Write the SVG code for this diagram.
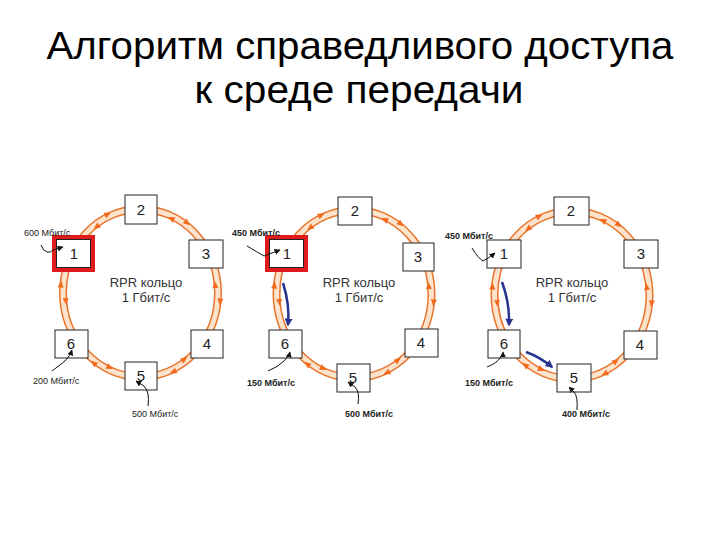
<svg xmlns="http://www.w3.org/2000/svg" xmlns:xlink="http://www.w3.org/1999/xlink" width="720" height="540" viewBox="0 0 720 540">
<style>
.title{font-family:"Liberation Sans",Arial,sans-serif;font-size:39px;fill:#000;text-anchor:middle}
.box{fill:#fff;stroke:#222;stroke-width:1}
.num{font-family:"Liberation Sans",Arial,sans-serif;font-size:15px;fill:#222;text-anchor:middle}
.rpr{font-family:"Liberation Sans",Arial,sans-serif;font-size:13px;fill:#333;text-anchor:middle}
.lbl{font-family:"Liberation Sans",Arial,sans-serif;font-size:9px;fill:#222}
.lblb{font-family:"Liberation Sans",Arial,sans-serif;font-size:9px;font-weight:bold;fill:#222}
.red{fill:none;stroke:#e01b1b;stroke-width:4}
.ann{fill:none;stroke:#111;stroke-width:1}
.blue{fill:none;stroke:#27358f;stroke-width:2.5}
.ah{fill:#f26a1b}
</style>
<defs>
<marker id="ka" viewBox="0 0 10 10" refX="9" refY="5" markerWidth="6" markerHeight="6" markerUnits="userSpaceOnUse" orient="auto"><path d="M0,0 L10,5 L0,10 z" fill="#111"/></marker>
<marker id="ba" viewBox="0 0 10 10" refX="8" refY="5" markerWidth="8" markerHeight="8" markerUnits="userSpaceOnUse" orient="auto"><path d="M0,0 L10,5 L0,10 z" fill="#27358f"/></marker>
<path id="arr" d="M-3.5,-3 L3.5,0 L-3.5,3 z"/>
<g id="ring">
<ellipse rx="77.5" ry="84" fill="none" stroke="#e8742c" stroke-width="8"/>
<ellipse rx="77.5" ry="84" fill="none" stroke="#fde2cc" stroke-width="5"/>
<g class="ah">
<use xlink:href="#arr" transform="translate(47,-70) rotate(38)"/>
<use xlink:href="#arr" transform="translate(79.6,9) rotate(95.6)"/>
<use xlink:href="#arr" transform="translate(32.5,79) rotate(154.3)"/>
<use xlink:href="#arr" transform="translate(-47,70) rotate(218)"/>
<use xlink:href="#arr" transform="translate(-79.6,-9) rotate(-84.4)"/>
<use xlink:href="#arr" transform="translate(-32.5,-79) rotate(-25.7)"/>
<use xlink:href="#arr" transform="translate(30.5,-74.5) rotate(205.8)"/>
<use xlink:href="#arr" transform="translate(74.6,-8.5) rotate(-95.5)"/>
<use xlink:href="#arr" transform="translate(44.1,65.9) rotate(-38.3)"/>
<use xlink:href="#arr" transform="translate(-30.5,74.5) rotate(25.8)"/>
<use xlink:href="#arr" transform="translate(-74.6,8.5) rotate(84.5)"/>
<use xlink:href="#arr" transform="translate(-44.1,-65.9) rotate(141.7)"/>
</g>
</g>
</defs>
<rect width="720" height="540" fill="#fff"/>
<g id="title">
<text class="title" x="360" y="59" textLength="627" lengthAdjust="spacingAndGlyphs">Алгоритм справедливого доступа</text>
<text class="title" x="359" y="103" textLength="329" lengthAdjust="spacingAndGlyphs">к среде передачи</text>
</g>
<g id="connectors">
<use xlink:href="#ring" x="140.5" y="293"/>
<use xlink:href="#ring" x="354" y="294"/>
<use xlink:href="#ring" x="572" y="295"/>
</g>
<g id="ring1">
<g id="r1n2"><rect class="box" x="125" y="195" width="32" height="29"/><text class="num" x="141" y="215">2</text></g>
<g id="r1n1"><rect class="red" x="54" y="237" width="39" height="33"/><rect class="box" x="56.5" y="239.5" width="34" height="28"/><text class="num" x="74" y="259">1</text></g>
<g id="r1n3"><rect class="box" x="189" y="240" width="34" height="28"/><text class="num" x="206" y="259">3</text></g>
<g id="r1n6"><rect class="box" x="55" y="330" width="33" height="28"/><text class="num" x="71" y="349">6</text></g>
<g id="r1n4"><rect class="box" x="191" y="330" width="32" height="28"/><text class="num" x="207" y="349">4</text></g>
<g id="r1n5"><rect class="box" x="125" y="362" width="32" height="28"/><text class="num" x="141" y="381">5</text></g>
<g id="r1c"><text class="rpr" x="146" y="287">RPR кольцо</text><text class="rpr" x="146" y="302">1 Гбит/с</text></g>
</g>
<g id="ring2">
<g id="r2n2"><rect class="box" x="338" y="197" width="34" height="28"/><text class="num" x="355" y="216">2</text></g>
<g id="r2n1"><rect class="red" x="267" y="237" width="39" height="33"/><rect class="box" x="269.5" y="239.5" width="34" height="28"/><text class="num" x="287" y="259">1</text></g>
<g id="r2n3"><rect class="box" x="403" y="243" width="31" height="28"/><text class="num" x="418" y="262">3</text></g>
<g id="r2n6"><rect class="box" x="269" y="330" width="33" height="28"/><text class="num" x="285" y="349">6</text></g>
<g id="r2n4"><rect class="box" x="405" y="329" width="33" height="28"/><text class="num" x="421" y="348">4</text></g>
<g id="r2n5"><rect class="box" x="337" y="364" width="33" height="28"/><text class="num" x="353" y="383">5</text></g>
<g id="r2c"><text class="rpr" x="359" y="287">RPR кольцо</text><text class="rpr" x="359" y="302">1 Гбит/с</text></g>
</g>
<g id="ring3">
<g id="r3n2"><rect class="box" x="554" y="197" width="35" height="28"/><text class="num" x="571" y="216">2</text></g>
<g id="r3n1"><rect class="box" x="487" y="240" width="34" height="28"/><text class="num" x="504" y="259">1</text></g>
<g id="r3n3"><rect class="box" x="624" y="240" width="34" height="28"/><text class="num" x="641" y="259">3</text></g>
<g id="r3n6"><rect class="box" x="488" y="330" width="32" height="28"/><text class="num" x="504" y="349">6</text></g>
<g id="r3n4"><rect class="box" x="624" y="331" width="33" height="28"/><text class="num" x="640" y="350">4</text></g>
<g id="r3n5"><rect class="box" x="557" y="364" width="34" height="28"/><text class="num" x="574" y="383">5</text></g>
<g id="r3c"><text class="rpr" x="572" y="287">RPR кольцо</text><text class="rpr" x="572" y="302">1 Гбит/с</text></g>
</g>
<g id="annotations">
<text class="lbl" x="24" y="236">600 Мбит/с</text>
<path class="ann" d="M41,245 q2,6 6,7 q4,1 6,-2 L63,247" marker-end="url(#ka)"/>
<text class="lbl" x="33" y="384">200 Мбит/с</text>
<path class="ann" d="M52,371 q8,-6 13,-10 q5,-5 7,-11" marker-end="url(#ka)"/>
<text class="lbl" x="132" y="417">500 Мбит/с</text>
<path class="ann" d="M148,406 q2,-14 -4,-20 l-8,-5" marker-end="url(#ka)"/>

<text class="lblb" x="232" y="236">450 Мбит/с</text>
<path class="ann" d="M247,246 q10,6 17,10 L280,250" marker-end="url(#ka)"/>
<text class="lblb" x="247" y="386">150 Мбит/с</text>
<path class="ann" d="M268,371 q10,-4 16,-10 q5,-5 6,-9" marker-end="url(#ka)"/>
<text class="lblb" x="345" y="417">500 Мбит/с</text>
<path class="ann" d="M358,404 q2,-12 -3,-17 l-7,-5" marker-end="url(#ka)"/>
<path class="blue" d="M283,283 q7,22 5,42" marker-end="url(#ba)"/>

<text class="lblb" x="445" y="239">450 Мбит/с</text>
<path class="ann" d="M472,248 q6,10 11,13 q6,-3 12,-8" marker-end="url(#ka)"/>
<text class="lblb" x="465" y="386">150 Мбит/с</text>
<path class="ann" d="M487,367 q10,-4 13,-9 q3,-4 3,-6" marker-end="url(#ka)"/>
<text class="lblb" x="562" y="417">400 Мбит/с</text>
<path class="ann" d="M577,410 q1,-14 -3,-18 l-5,-5" marker-end="url(#ka)"/>
<path class="blue" d="M502,282 q8,22 7,43" marker-end="url(#ba)"/>
<path class="blue" d="M526,352 q14,5 26,15" marker-end="url(#ba)"/>
</g>
</svg>
